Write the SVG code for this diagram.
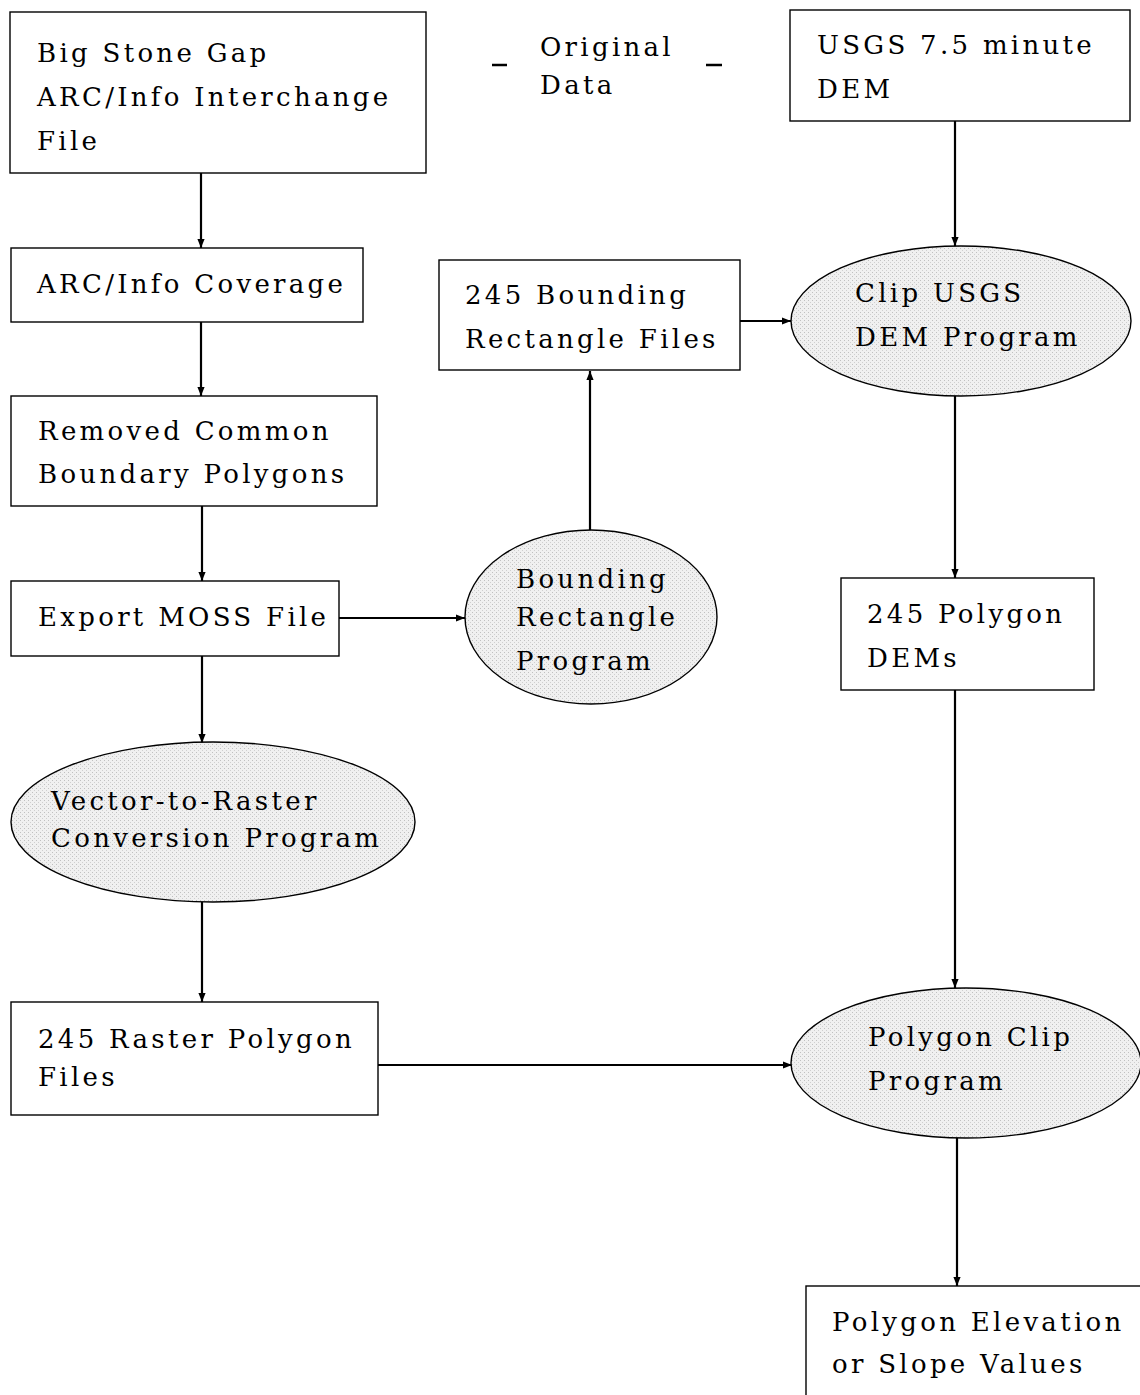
<svg xmlns="http://www.w3.org/2000/svg" width="1140" height="1395" viewBox="0 0 1140 1395">
<defs>
<marker id="ah" viewBox="0 0 10 10" refX="10" refY="5" markerWidth="10" markerHeight="9" markerUnits="userSpaceOnUse" orient="auto"><path d="M0,1 L10,5 L0,9 z" fill="#000"/></marker>
<pattern id="stip" width="4" height="4" patternUnits="userSpaceOnUse"><rect width="4" height="4" fill="#f0f0f0"/><rect x="0" y="0" width="1" height="1" fill="#c0c0c0"/><rect x="2" y="2" width="1" height="1" fill="#cfcfcf"/></pattern>
</defs>
<style>
text{font-family:"DejaVu Serif","Liberation Serif",serif;font-size:26px;letter-spacing:3.3px;fill:#000}
.box{fill:#fff;stroke:#000;stroke-width:1.4}
.ell{fill:url(#stip);stroke:#000;stroke-width:1.4}
.c{stroke:#000;stroke-width:2.2;fill:none;marker-end:url(#ah)}
</style>
<rect width="1140" height="1395" fill="#fff"/>
<g id="connectors">
<line class="c" x1="201" y1="173" x2="201" y2="248"/>
<line class="c" x1="201" y1="322" x2="201" y2="396"/>
<line class="c" x1="202" y1="506" x2="202" y2="581"/>
<line class="c" x1="339" y1="618" x2="465" y2="618"/>
<line class="c" x1="590" y1="530" x2="590" y2="371"/>
<line class="c" x1="740" y1="321" x2="791" y2="321"/>
<line class="c" x1="955" y1="121" x2="955" y2="246"/>
<line class="c" x1="955" y1="396" x2="955" y2="578"/>
<line class="c" x1="955" y1="690" x2="955" y2="988"/>
<line class="c" x1="378" y1="1065" x2="792" y2="1065"/>
<line class="c" x1="957" y1="1138" x2="957" y2="1286"/>
<line class="c" x1="202" y1="656" x2="202" y2="743"/>
<line class="c" x1="202" y1="902" x2="202" y2="1002"/>
</g>
<g id="bsg"><rect class="box" x="10" y="12" width="416" height="161"/><text x="37" y="62">Big Stone Gap</text><text x="37" y="106">ARC/Info Interchange</text><text x="37" y="150">File</text></g>
<g id="orig"><line x1="492" y1="65" x2="507" y2="65" stroke="#000" stroke-width="2.5"/><line x1="706" y1="65" x2="722" y2="65" stroke="#000" stroke-width="2.5"/><text x="540" y="56">Original</text><text x="540" y="94">Data</text></g>
<g id="usgs"><rect class="box" x="790" y="10" width="340" height="111"/><text x="817" y="54">USGS 7.5 minute</text><text x="817" y="98">DEM</text></g>
<g id="cov"><rect class="box" x="11" y="248" width="352" height="74"/><text x="37" y="293">ARC/Info Coverage</text></g>
<g id="rem"><rect class="box" x="11" y="396" width="366" height="110"/><text x="38" y="440">Removed Common</text><text x="38" y="483">Boundary Polygons</text></g>
<g id="moss"><rect class="box" x="11" y="581" width="328" height="75"/><text x="38" y="626">Export MOSS File</text></g>
<g id="brp"><ellipse class="ell" cx="591" cy="617" rx="126" ry="87"/><text x="516" y="588">Bounding</text><text x="516" y="626">Rectangle</text><text x="516" y="670">Program</text></g>
<g id="brf"><rect class="box" x="439" y="260" width="301" height="110"/><text x="465" y="304">245 Bounding</text><text x="465" y="348">Rectangle Files</text></g>
<g id="clip"><ellipse class="ell" cx="961" cy="321" rx="170" ry="75"/><text x="855" y="302">Clip USGS</text><text x="855" y="346">DEM Program</text></g>
<g id="pdem"><rect class="box" x="841" y="578" width="253" height="112"/><text x="867" y="623">245 Polygon</text><text x="867" y="667">DEMs</text></g>
<g id="v2r"><ellipse class="ell" cx="213" cy="822" rx="202" ry="80"/><text x="51" y="810">Vector-to-Raster</text><text x="51" y="847">Conversion Program</text></g>
<g id="rast"><rect class="box" x="11" y="1002" width="367" height="113"/><text x="38" y="1048">245 Raster Polygon</text><text x="38" y="1086">Files</text></g>
<g id="pclip"><ellipse class="ell" cx="966" cy="1063" rx="175" ry="75"/><text x="868" y="1046">Polygon Clip</text><text x="868" y="1090">Program</text></g>
<g id="elev"><rect class="box" x="806" y="1286" width="340" height="115"/><text x="832" y="1331">Polygon Elevation</text><text x="832" y="1373">or Slope Values</text></g>
</svg>
